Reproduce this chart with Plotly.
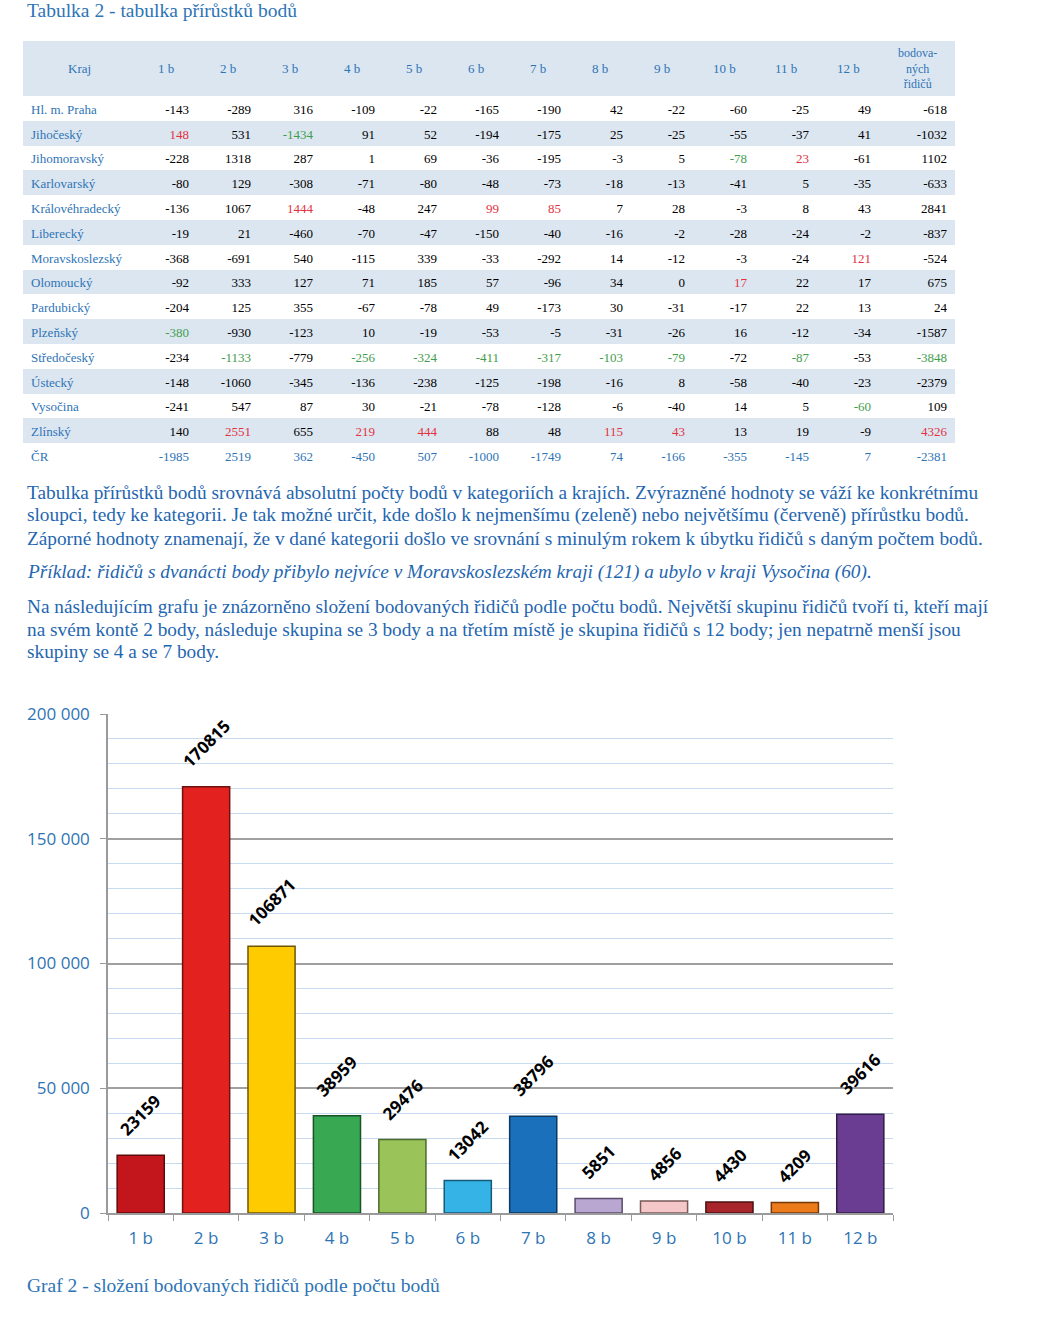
import plotly.graph_objects as go

W, H = 1050, 1320

# ---------------- data ----------------
regions = ["Hl. m. Praha", "Jihočeský", "Jihomoravský", "Karlovarský", "Královéhradecký",
           "Liberecký", "Moravskoslezský", "Olomoucký", "Pardubický", "Plzeňský",
           "Středočeský", "Ústecký", "Vysočina", "Zlínský", "ČR"]
point_labels = ["1 b", "2 b", "3 b", "4 b", "5 b", "6 b", "7 b", "8 b", "9 b", "10 b", "11 b", "12 b"]
total_label = "bodova-<br>ných<br>řidičů"
kraj_label = "Kraj"

v_1b = [-143, 148, -228, -80, -136, -19, -368, -92, -204, -380, -234, -148, -241, 140, -1985]
v_2b = [-289, 531, 1318, 129, 1067, 21, -691, 333, 125, -930, -1133, -1060, 547, 2551, 2519]
v_3b = [316, -1434, 287, -308, 1444, -460, 540, 127, 355, -123, -779, -345, 87, 655, 362]
v_4b = [-109, 91, 1, -71, -48, -70, -115, 71, -67, 10, -256, -136, 30, 219, -450]
v_5b = [-22, 52, 69, -80, 247, -47, 339, 185, -78, -19, -324, -238, -21, 444, 507]
v_6b = [-165, -194, -36, -48, 99, -150, -33, 57, 49, -53, -411, -125, -78, 88, -1000]
v_7b = [-190, -175, -195, -73, 85, -40, -292, -96, -173, -5, -317, -198, -128, 48, -1749]
v_8b = [42, 25, -3, -18, 7, -16, 14, 34, 30, -31, -103, -16, -6, 115, 74]
v_9b = [-22, -25, 5, -13, 28, -2, -12, 0, -31, -26, -79, 8, -40, 43, -166]
v_10b = [-60, -55, -78, -41, -3, -28, -3, 17, -17, 16, -72, -58, 14, 13, -355]
v_11b = [-25, -37, 23, 5, 8, -24, -24, 22, 22, -12, -87, -40, 5, 19, -145]
v_12b = [49, 41, -61, -35, 43, -2, 121, 17, 13, -34, -53, -23, -60, -9, 7]
v_total = [-618, -1032, 1102, -633, 2841, -837, -524, 675, 24, -1587, -3848, -2379, 109, 4326, -2381]

# highlighted region per column (largest increase = red, smallest = green), as marked in the source
highlight_max = ["Jihočeský", "Zlínský", "Královéhradecký", "Zlínský", "Zlínský", "Královéhradecký",
                 "Královéhradecký", "Zlínský", "Zlínský", "Olomoucký", "Jihomoravský",
                 "Moravskoslezský", "Zlínský"]
highlight_min = ["Plzeňský", "Středočeský", "Jihočeský", "Středočeský", "Středočeský", "Středočeský",
                 "Středočeský", "Středočeský", "Středočeský", "Jihomoravský", "Středočeský",
                 "Vysočina", "Středočeský"]

bar_values = [23159, 170815, 106871, 38959, 29476, 13042, 38796, 5851, 4856, 4430, 4209, 39616]
bar_colors = ["#c3161c", "#e3221f", "#fecb00", "#38a852", "#9ac45a", "#35b3e6",
              "#1b70bb", "#b9a7d2", "#f5c7c8", "#a8262b", "#ec7b1b", "#6a3c92"]
bar_edges = ["#5e0a0c", "#6e1210", "#6e5600", "#18532a", "#4d6a2a", "#175a78",
             "#0d3860", "#5a4c6c", "#7a5a5a", "#4c1012", "#74380a", "#331c48"]

title_text = "Tabulka 2 - tabulka přírůstků bodů"
caption_text = "Graf 2 - složení bodovaných řidičů podle počtu bodů"
para_lines = [
    ("Tabulka přírůstků bodů srovnává absolutní počty bodů v kategoriích a krajích. Zvýrazněné hodnoty se váží ke konkrétnímu", False),
    ("sloupci, tedy ke kategorii. Je tak možné určit, kde došlo k nejmenšímu (zeleně) nebo největšímu (červeně) přírůstku bodů.", False),
    ("Záporné hodnoty znamenají, že v dané kategorii došlo ve srovnání s minulým rokem k úbytku řidičů s daným počtem bodů.", False),
    ("Příklad: řidičů s dvanácti body přibylo nejvíce v Moravskoslezském kraji (121) a ubylo v kraji Vysočina (60).", True),
    ("Na následujícím grafu je znázorněno složení bodovaných řidičů podle počtu bodů. Největší skupinu řidičů tvoří ti, kteří mají", False),
    ("na svém kontě 2 body, následuje skupina se 3 body a na třetím místě je skupina řidičů s 12 body; jen nepatrně menší jsou", False),
    ("skupiny se 4 a se 7 body.", False),
]
para_y = [492, 515, 538, 572, 606, 629, 651]

# ---------------- styles ----------------
BLUE_TXT = "#2e74b5"
PARA_BLUE = "#1f66b0"
LIGHT = "#dce6f1"
RED = "#e2323f"
GREEN = "#3f9e4e"
SERIF = "Liberation Serif"
SANS = "Open Sans"

def py(px):
    return 1 - px / H

def px_x(px):
    return px / W

# ---------------- table ----------------
TABLE_X0, TABLE_X1, TABLE_TOP, HEADER_H = 23, 955, 41, 55
value_cols = [v_1b, v_2b, v_3b, v_4b, v_5b, v_6b, v_7b, v_8b, v_9b, v_10b, v_11b, v_12b, v_total]
n = len(regions)
row_fill = ["white" if i % 2 == 0 else LIGHT for i in range(n)]

cell_values = [regions] + [[str(v) for v in col] for col in value_cols]
font_colors = [[BLUE_TXT] * n]
for ci, col in enumerate(value_cols):
    colors = []
    for ri, r in enumerate(regions):
        if r == "ČR":
            colors.append(BLUE_TXT)
        elif r == highlight_max[ci]:
            colors.append(RED)
        elif r == highlight_min[ci]:
            colors.append(GREEN)
        else:
            colors.append("black")
    font_colors.append(colors)

header_labels = [kraj_label] + point_labels + [total_label]
col_widths = [112] + [62] * 12 + [76]

fig = go.Figure()
fig.add_trace(go.Table(
    domain=dict(x=[px_x(TABLE_X0), px_x(TABLE_X1)], y=[py(480), py(TABLE_TOP)]),
    columnwidth=col_widths,
    header=dict(values=[""] * len(header_labels), fill_color=LIGHT, height=HEADER_H,
                line=dict(width=0, color=LIGHT),
                font=dict(family=SERIF, size=13, color=BLUE_TXT)),
    cells=dict(values=cell_values, height=24.8,
               fill_color=[row_fill] * len(cell_values),
               align=["left"] + ["right"] * 13,
               line=dict(width=0, color="white"),
               font=dict(family=SERIF, size=13, color=font_colors)),
))

annotations = []
# header labels, centred in each column of the header band
scale = (TABLE_X1 - TABLE_X0) / sum(col_widths)
left = TABLE_X0
for lab, wdt in zip(header_labels, col_widths):
    cx = left + wdt * scale / 2
    left += wdt * scale
    annotations.append(dict(x=px_x(cx), y=py(TABLE_TOP + HEADER_H / 2), xref="paper", yref="paper",
                            text=lab, showarrow=False, xanchor="center", yanchor="middle",
                            align="center",
                            font=dict(family=SERIF, size=12 if "<br>" in lab else 13, color=BLUE_TXT)))

# ---------------- bar chart ----------------
fig.add_trace(go.Bar(
    x=point_labels, y=bar_values,
    marker=dict(color=bar_colors, line=dict(color=bar_edges, width=1.5)),
    width=0.72, showlegend=False, hoverinfo="x+y",
))

for lab, val in zip(point_labels, bar_values):
    annotations.append(dict(
        x=lab, y=val, xref="x", yref="y", text=str(val), showarrow=False,
        textangle=-45, xanchor="center", yanchor="bottom", yshift=12,
        font=dict(family=SANS, size=17, color="black", weight="bold"),
    ))

annotations.append(dict(x=px_x(25), y=py(11), xref="paper", yref="paper", text=title_text,
                        showarrow=False, xanchor="left", yanchor="middle",
                        font=dict(family=SERIF, size=19.5, color=BLUE_TXT)))
annotations.append(dict(x=px_x(25), y=py(1285), xref="paper", yref="paper", text=caption_text,
                        showarrow=False, xanchor="left", yanchor="middle",
                        font=dict(family=SERIF, size=19.5, color=BLUE_TXT)))
for (txt, ital), yy in zip(para_lines, para_y):
    annotations.append(dict(x=px_x(25), y=py(yy), xref="paper", yref="paper",
                            text=("<i>" + txt + "</i>") if ital else txt,
                            showarrow=False, xanchor="left", yanchor="middle",
                            font=dict(family=SERIF, size=19.3, color=PARA_BLUE)))

fig.update_layout(
    width=W, height=H, autosize=False,
    margin=dict(l=0, r=0, t=0, b=0, autoexpand=False),
    paper_bgcolor="white", plot_bgcolor="white",
    separators=", ",
    annotations=annotations,
    xaxis=dict(domain=[px_x(108), px_x(893)], type="category", automargin=False,
               showline=True, linecolor="#9a9a9a", linewidth=1.5,
               ticks="outside", tickson="boundaries", ticklen=6, tickcolor="#9a9a9a",
               tickfont=dict(family=SANS, size=17, color=BLUE_TXT),
               ticklabelstandoff=9, showgrid=False, fixedrange=True),
    yaxis=dict(domain=[py(1213), py(714)], range=[0, 200000], automargin=False,
               tickvals=[0, 50000, 100000, 150000, 200000], tickformat=",d",
               showline=True, linecolor="#9a9a9a", linewidth=1.5,
               ticks="outside", ticklen=6, tickcolor="#9a9a9a",
               showgrid=True, gridcolor="#a0a0a0", gridwidth=1.5,
               minor=dict(dtick=10000, showgrid=True, gridcolor="#c8daf0", gridwidth=1),
               zeroline=False,
               tickfont=dict(family=SANS, size=17, color=BLUE_TXT),
               ticklabelstandoff=7, fixedrange=True),
)

fig.write_html("out.html", config={"displayModeBar": False},
               post_script="document.body.style.margin='0';document.body.style.padding='0';")
